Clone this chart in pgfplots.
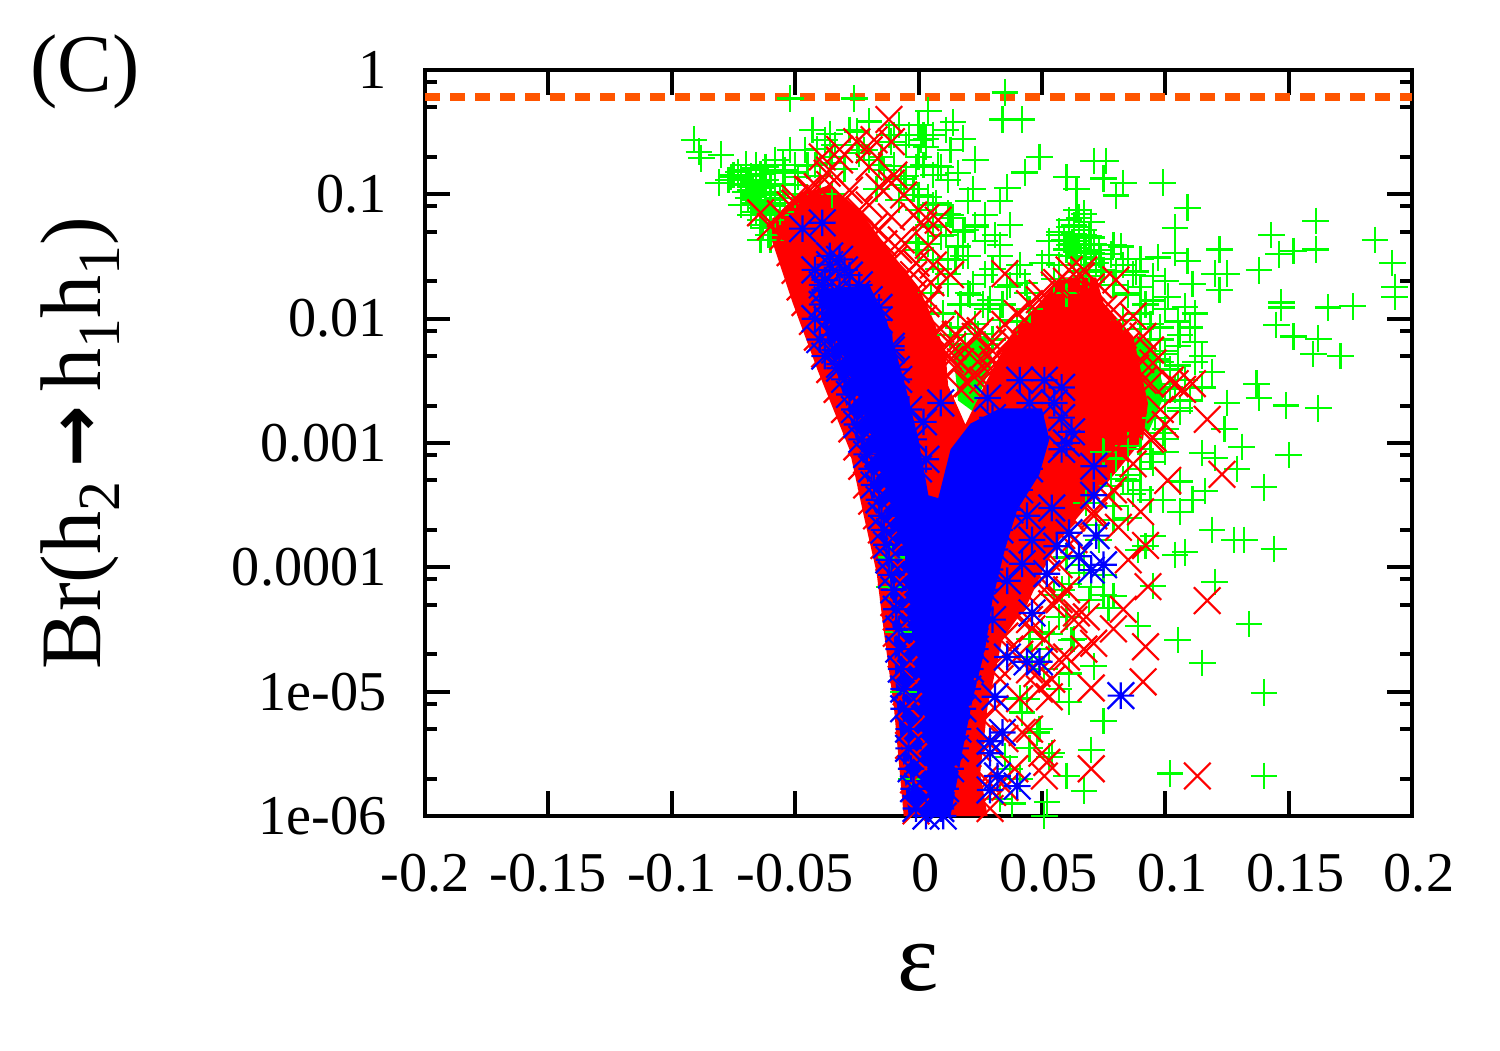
\documentclass[border=0pt]{standalone}
\usepackage{pgfplots}
\pgfplotsset{compat=1.18}
\usepackage{fontspec}
\setmainfont{Liberation Serif}
\newfontfamily\arrowfont{DejaVu Sans}
\definecolor{gpg}{RGB}{0,255,0}
\definecolor{gpr}{RGB}{255,0,0}
\definecolor{gpb}{RGB}{0,0,255}
\definecolor{gpo}{RGB}{255,85,0}
\pgfdeclareplotmark{gpx}{%
 \pgfpathmoveto{\pgfqpoint{-\pgfplotmarksize}{-\pgfplotmarksize}}\pgfpathlineto{\pgfqpoint{\pgfplotmarksize}{\pgfplotmarksize}}%
 \pgfpathmoveto{\pgfqpoint{-\pgfplotmarksize}{\pgfplotmarksize}}\pgfpathlineto{\pgfqpoint{\pgfplotmarksize}{-\pgfplotmarksize}}%
 \pgfusepathqstroke}
\pgfdeclareplotmark{gpstar}{%
 \pgfpathmoveto{\pgfqpoint{-\pgfplotmarksize}{-\pgfplotmarksize}}\pgfpathlineto{\pgfqpoint{\pgfplotmarksize}{\pgfplotmarksize}}%
 \pgfpathmoveto{\pgfqpoint{-\pgfplotmarksize}{\pgfplotmarksize}}\pgfpathlineto{\pgfqpoint{\pgfplotmarksize}{-\pgfplotmarksize}}%
 \pgfpathmoveto{\pgfqpoint{-\pgfplotmarksize}{0pt}}\pgfpathlineto{\pgfqpoint{\pgfplotmarksize}{0pt}}%
 \pgfpathmoveto{\pgfqpoint{0pt}{-\pgfplotmarksize}}\pgfpathlineto{\pgfqpoint{0pt}{\pgfplotmarksize}}%
 \pgfusepathqstroke}
\newcommand{\lsub}[1]{\raisebox{-0.22em}{\fontsize{17}{18}\selectfont #1}}
\begin{document}
\begin{tikzpicture}[x=1mm,y=1mm]
\useasboundingbox (0,0) rectangle (150,105);
\begin{axis}[
 at={(42.5mm,23.4mm)},anchor=south west,
 scale only axis,width=98.7mm,height=74.6mm,
 xmin=-0.2,xmax=0.2,ymode=log,ymin=1e-6,ymax=1,
 clip=false,
 axis line style={line width=0.4mm,black},
 tick align=inside,
 major tick length=2.5mm,minor tick length=1.2mm,
 every tick/.style={black,line width=0.4mm},
 xtick={-0.2,-0.15,-0.1,-0.05,0,0.05,0.1,0.15,0.2},
 xticklabels={-0.2,-0.15,-0.1,-0.05,\hspace{1.4mm}0,\hspace{1.4mm}0.05,\hspace{1.4mm}0.1,\hspace{1.4mm}0.15,\hspace{1.4mm}0.2},
 minor xtick={},
 ytick={1e-6,1e-5,1e-4,1e-3,1e-2,1e-1,1},
 yticklabels={1e-06,1e-05,0.0001,0.001,0.01,0.1,1},
 minor ytick={2e-6,5e-6,8e-6,2e-5,5e-5,8e-5,2e-4,5e-4,8e-4,2e-3,5e-3,8e-3,2e-2,5e-2,8e-2,0.2,0.5,0.8},
 tick label style={font=\fontsize{16}{18}\selectfont},
 xticklabel style={yshift=-2.6mm},
 yticklabel style={xshift=-2.6mm},
]
% dense green patches
\addplot[fill=gpg,draw=none] coordinates {(0.083,0.0072)(0.094,0.0068)(0.100,0.0025)(0.093,0.0012)(0.083,0.002)} -- cycle;
\addplot[fill=gpg,draw=none] coordinates {(0.014,0.0058)(0.028,0.0075)(0.030,0.0045)(0.022,0.0018)(0.016,0.0022)} -- cycle;
% green points
\addplot[only marks,color=gpg,mark=+,mark size=1.33mm,line width=0.22mm] coordinates {
(-0.091,0.275)(-0.089,0.22)(-0.088,0.195)(-0.080,0.208)(-0.081,0.124)(-0.052,0.59)(-0.026,0.59)(0.035,0.66)(-0.043,0.33)(-0.036,0.306)
(0.004,0.47)(0.014,0.38)(0.034,0.40)(0.042,0.40)(0.023,0.19)(0.049,0.2)(0.043,0.15)(0.071,0.186)(0.076,0.186)(0.060,0.137)
(0.064,0.11)(0.075,0.134)(0.083,0.123)(0.099,0.124)(0.080,0.098)(0.033,0.089)(0.036,0.113)(0.020,0.089)(0.109,0.078)(0.104,0.054)
(0.161,0.061)(0.143,0.047)(0.161,0.036)(0.152,0.035)(0.146,0.033)(0.185,0.043)(0.192,0.028)(0.193,0.018)(0.193,0.015)(0.147,0.0135)
(0.147,0.0123)(0.166,0.0123)(0.176,0.0126)(0.145,0.0089)(0.152,0.0072)(0.162,0.0069)(0.160,0.0052)(0.171,0.005)(0.122,0.036)(0.104,0.034)
(0.109,0.029)(0.097,0.031)(0.111,0.019)(0.120,0.023)(0.125,0.023)(0.122,0.017)(0.138,0.0245)(0.101,0.015)(0.112,0.011)(0.106,0.0074)
(0.115,0.005)(0.119,0.0037)(0.137,0.003)(0.138,0.0023)(0.149,0.002)(0.162,0.0019)(0.125,0.0021)(0.124,0.0013)(0.100,0.0013)(0.131,0.00093)
(0.023,0.055)(0.031,0.047)(0.053,0.042)(0.033,0.032)(0.018,0.032)(0.012,0.023)(0.043,0.0195)(0.026,0.013)(0.022,0.019)(0.018,0.28)
(0.001,0.275)(0.009,0.166)(0.016,0.148)(0.022,0.11)(0.003,0.28)(-0.011,0.265)(-0.020,0.385)(0.007,0.085)(0.014,0.065)(0.009,0.046)
(-0.001,0.041)(0.016,0.038)(-0.062,0.166)(-0.070,0.173)(-0.055,0.173)(-0.049,0.138)(-0.076,0.138)(-0.068,0.115)(-0.066,0.085)(-0.041,0.23)
(-0.036,0.178)(-0.024,0.214)(-0.014,0.158)(-0.007,0.132)(-0.001,0.166)
(0.100,0.00085)(0.115,0.00083)(0.131,0.00093)(0.150,0.0008)(0.120,0.00076)(0.129,0.00062)(0.140,0.00044)(0.106,0.00049)(0.116,0.00041)(0.111,0.00035)
(0.099,0.00035)(0.106,0.00028)(0.119,0.0002)(0.128,0.000166)(0.132,0.000166)(0.144,0.00014)(0.104,0.000126)(0.108,0.000132)(0.092,0.000148)(0.120,0.000076)
(0.134,0.000035)(0.105,0.000026)(0.115,0.000017)(0.140,0.0000098)(0.102,0.0000022)(0.140,0.0000021)(0.067,0.0000016)(0.075,0.0000058)(0.070,0.0000034)(0.060,0.0000021)
(0.052,0.0000013)(0.038,0.00000126)(0.051,0.000001)(0.071,0.000016)(0.077,0.000047)(0.089,0.000034)(0.062,0.000026)(0.061,0.000014)(0.061,0.0000083)(0.048,0.0000047)
(0.042,0.0000068)(0.054,0.0000032)(0.095,0.000071)(0.079,0.000059)(0.058,0.000066)(0.053,0.000029)(0.046,0.000019)(0.044,0.0000087)(0.068,0.00033)(0.079,0.00031)
(0.085,0.0005)(0.089,0.000138)(0.095,0.000178)
(-0.055,0.12)(-0.05,0.15)(-0.045,0.17)(-0.04,0.14)(-0.035,0.2)(-0.03,0.16)(-0.025,0.25)(-0.02,0.19)(-0.015,0.2)(-0.01,0.17)
(-0.005,0.14)(0,0.2)(0.003,0.24)(0.008,0.17)(0.012,0.13)(-0.005,0.25)(-0.012,0.3)(-0.025,0.32)(-0.017,0.11)(-0.008,0.09)
(-0.002,0.11)(0.004,0.095)(-0.06,0.105)(-0.056,0.085)(-0.05,0.10)(-0.062,0.075)(-0.066,0.1)(-0.072,0.13)(-0.07,0.105)(-0.066,0.13)
(-0.063,0.12)(-0.058,0.15)(-0.035,0.1)(0,0.075)(0.006,0.055)(0.012,0.07)(0.018,0.05)(0.004,0.04)(0.012,0.03)(0.02,0.032)
(0.027,0.042)(0.03,0.025)(0.036,0.018)(0.04,0.023)(0.044,0.016)(0.05,0.028)(0.055,0.021)(0.06,0.016)(0.045,0.012)(0.04,0.0095)
(0.034,0.013)(0.028,0.012)(0.02,0.016)(0.012,0.019)(0.008,0.025)(0.005,0.016)(0.01,0.011)(0.016,0.0085)(0.024,0.0075)(0.03,0.0068)
(0.062,0.04)(0.065,0.055)(0.068,0.035)(0.07,0.045)(0.074,0.03)(0.078,0.033)(0.082,0.038)(0.085,0.03)(0.088,0.024)(0.08,0.024)
(0.09,0.03)(0.095,0.022)(0.1,0.02)(0.09,0.018)(0.085,0.016)(0.095,0.014)(0.1,0.012)(0.105,0.0095)(0.098,0.0085)(0.09,0.011)
(0.108,0.0125)(0.11,0.0085)(0.112,0.0065)(0.105,0.006)(0.1,0.0055)(0.098,0.0045)(0.105,0.0042)(0.112,0.0045)(0.108,0.0032)(0.102,0.0028)
(0.1,0.0022)(0.106,0.0018)(0.096,0.0016)(0.099,0.0012)(0.11,0.0022)(0.115,0.0028)(0.09,0.0009)(0.095,0.0007)
(0.085,0.00095)(0.08,0.00075)(0.075,0.00085)(0.085,0.00055)(0.09,0.00042)(0.085,0.00025)(0.078,0.00045)(0.072,0.00022)
(0.06,0.00012)(0.065,0.00009)(0.07,0.00007)(0.075,0.00006)(0.055,0.00006)(0.06,0.00004)(0.05,0.00003)
(-0.012,0.00007)(-0.011,0.00012)(-0.008,0.00003)(-0.006,0.00001)(-0.003,0.000002)
(-0.075,0.143)(-0.070,0.157)(-0.066,0.172)(-0.062,0.157)(-0.058,0.189)(-0.054,0.157)(-0.050,0.172)(-0.070,0.119)(-0.066,0.09)(-0.062,0.13)
(-0.058,0.099)(-0.054,0.119)(-0.050,0.119)(-0.068,0.068)(-0.064,0.0565)(-0.060,0.082)(-0.058,0.068)(-0.060,0.043)(-0.064,0.043)(-0.077,0.13)
(-0.072,0.082)(-0.052,0.228)(-0.046,0.228)(-0.042,0.172)(-0.038,0.274)(-0.034,0.25)(-0.028,0.33)(-0.022,0.228)(-0.016,0.172)(-0.010,0.30)
(-0.008,0.361)(-0.004,0.30)(0,0.361)(0.002,0.30)(0.006,0.30)(0.011,0.33)(0.013,0.228)(0.002,0.172)(0.006,0.143)(-0.006,0.119)
(0,0.099)(0.006,0.082)(0.013,0.068)(0.011,0.047)(0.004,0.0565)(0,0.0357)(0.006,0.0297)(0.015,0.0297)(0.019,0.0515)(0.023,0.0565)
(0.027,0.068)(0.033,0.039)(0.037,0.0565)(0.041,0.027)(0.037,0.0187)(0.027,0.0226)(0.021,0.0156)(0.017,0.013)(0.023,0.009)(0.029,0.0142)
(0.033,0.0098)(0.019,0.0062)(0.023,0.0052)(0.027,0.0062)(0.013,0.0074)
(0.071,0.039)(0.057,0.047)(0.063,0.0565)(0.067,0.047)(0.053,0.0325)(0.057,0.027)(0.061,0.039)(0.067,0.03)(0.073,0.0357)(0.079,0.039)
(0.083,0.027)(0.075,0.0247)(0.079,0.0187)(0.087,0.0226)(0.085,0.0156)(0.092,0.013)(0.083,0.0098)(0.090,0.0082)(0.094,0.009)(0.098,0.0068)
(0.100,0.0052)(0.096,0.0047)(0.102,0.0039)(0.098,0.003)(0.104,0.0027)(0.106,0.0019)(0.100,0.00107)(0.094,0.00081)(0.090,0.00062)(0.083,0.00051)
(0.094,0.00035)(0.087,0.00039)(0.079,0.00024)(0.073,0.000167)(0.067,0.000105)(0.061,0.000073)(0.069,0.000055)(0.075,0.000087)(0.057,0.00004)(0.063,0.0000265)
(0.053,0.000022)(0.045,0.0000265)(0.041,0.0000088)(0.049,0.000005)(0.053,0.000003)(0.045,0.0000035)(0.037,0.0000024)(0.041,0.000002)(0.033,0.00000138)(0.035,0.000003)
(0.057,0.0000105)(0.051,0.0000152)
(-0.073,0.151)(-0.072,0.135)(-0.070,0.121)(-0.068,0.108)(-0.067,0.096)(-0.065,0.087)(-0.064,0.078)(-0.062,0.069)(-0.060,0.062)(-0.070,0.157)
(-0.068,0.14)(-0.066,0.125)(-0.064,0.112)(-0.062,0.1)(-0.060,0.09)(-0.058,0.08)(-0.056,0.072)(-0.066,0.163)(-0.064,0.146)(-0.062,0.13)
(-0.060,0.117)(-0.058,0.104)(-0.056,0.094)(-0.054,0.085)(-0.069,0.094)(-0.068,0.082)(-0.066,0.072)(-0.064,0.062)(-0.063,0.054)(-0.061,0.047)
(0.057,0.05)(0.059,0.043)(0.061,0.055)(0.063,0.048)(0.065,0.042)(0.067,0.052)(0.069,0.046)(0.071,0.04)(0.073,0.033)(0.060,0.036)
(0.062,0.032)(0.064,0.037)(0.066,0.031)(0.068,0.027)(0.070,0.034)(0.072,0.028)(0.074,0.024)(0.063,0.027)(0.066,0.024)(0.069,0.022)
(0.061,0.062)(0.065,0.065)(0.067,0.07)(0.064,0.075)(0.070,0.06)
};
% red solid region
\addplot[fill=gpr,draw=none] coordinates {
(-0.061,0.0596)(-0.048,0.099)(-0.036,0.119)(-0.024,0.075)(-0.012,0.0357)(0,0.018)(0.006,0.0098)(0.011,0.0053)(0.012,0.0029)(0.019,0.00141)
(0.027,0.003)(0.037,0.0072)(0.049,0.0134)(0.058,0.0215)(0.072,0.0215)(0.075,0.0134)(0.087,0.0072)(0.090,0.0039)(0.093,0.00209)(0.091,0.00107)
(0.080,0.00058)(0.068,0.000305)(0.057,0.000167)(0.050,0.000091)(0.044,0.00005)(0.034,0.0000265)(0.028,0.0000076)(0.025,0.0000022)(0.028,0.000001)(-0.006,0.000001)
(-0.010,0.0000076)(-0.014,0.00003)(-0.017,0.000091)(-0.022,0.00025)(-0.028,0.00089)(-0.041,0.0039)(-0.051,0.0134)(-0.060,0.046)} -- cycle;
% red points
\addplot[only marks,color=gpr,mark=gpx,mark size=1.33mm,line width=0.22mm] coordinates {
(-0.012,0.40)(-0.025,0.265)(-0.039,0.2)(-0.018,0.275)(-0.011,0.265)(-0.032,0.23)(-0.020,0.166)(-0.037,0.148)(-0.041,0.115)(-0.016,0.115)
(-0.011,0.123)(-0.064,0.071)(-0.050,0.093)(0.003,0.065)(0.008,0.062)(-0.011,0.066)(0.035,0.023)(-0.007,0.043)(-0.001,0.028)(0.005,0.0195)
(0.003,0.0132)(0.020,0.0091)(0.023,0.0072)(0.012,0.005)(0.045,0.0132)(0.056,0.0195)(0.066,0.022)(0.080,0.0205)(0.087,0.0105)(0.091,0.0072)
(0.095,0.0044)(0.107,0.0027)(0.111,0.003)(0.102,0.0032)(0.117,0.00155)(0.091,0.0032)(0.085,0.0019)(0.095,0.0011)(0.030,0.0047)(0.026,0.0032)
(0.123,0.00056)(0.101,0.0005)(0.090,0.00028)(0.092,0.00015)(0.085,0.000115)(0.093,0.00007)(0.117,0.000054)(0.092,0.000023)(0.091,0.000012)(0.070,0.0000107)
(0.083,0.000046)(0.079,0.000032)(0.071,0.0000245)(0.068,0.00004)(0.064,0.000043)(0.060,0.000019)(0.053,0.0000091)(0.054,0.0000126)(0.048,0.000014)(0.050,0.0000032)
(0.052,0.0000027)(0.051,0.0000021)(0.070,0.0000024)(0.113,0.0000021)(0.042,0.0000047)(0.077,0.00037)(0.071,0.00028)(0.081,0.00021)(0.060,0.000066)(0.054,0.000051)
(0.046,0.000032)(0.041,0.00002)(0.035,0.0000017)(0.030,0.00000155)
(-0.055,0.0457)(-0.050,0.0245)(-0.046,0.0135)(-0.041,0.0071)(-0.036,0.0039)(-0.030,0.00186)(-0.025,0.00093)(-0.021,0.00046)(-0.017,0.00026)(-0.014,0.00015)
(-0.011,0.000091)(-0.010,0.000052)(-0.009,0.0000295)(-0.006,0.000015)(-0.004,0.0000076)(-0.004,0.0000037)(-0.002,0.00000195)(-0.001,0.0000011)
(-0.052,0.034)(-0.048,0.018)(-0.043,0.0095)(-0.038,0.0052)(-0.033,0.0027)(-0.027,0.0013)(-0.023,0.00065)(-0.019,0.00034)(-0.015,0.0002)(-0.012,0.00012)
(-0.010,0.00007)(-0.009,0.00004)(-0.007,0.00002)(-0.005,0.00001)(-0.003,0.000005)(-0.002,0.000003)
(-0.06,0.055)(-0.056,0.07)(-0.05,0.085)(-0.045,0.11)(-0.036,0.12)(-0.03,0.09)(-0.024,0.075)(-0.018,0.055)(-0.014,0.04)(-0.01,0.03)
(-0.006,0.022)(-0.002,0.016)(0.002,0.01)(0.006,0.0075)(0.01,0.0056)(0.015,0.004)(0.02,0.003)(0.024,0.0045)(0.03,0.0065)(0.035,0.009)
(0.04,0.011)(0.05,0.016)(0.06,0.02)(0.07,0.018)(0.075,0.012)(0.08,0.009)(0.084,0.006)(0.088,0.004)(0.087,0.0022)(0.085,0.0014)
(0.08,0.0009)(0.072,0.00065)(0.068,0.00045)(0.062,0.00025)(0.058,0.00018)(0.052,0.00012)(0.05,0.00008)(0.044,0.00006)(0.04,0.00004)(0.035,0.000028)
(0.032,0.000016)(0.028,0.00001)(0.026,0.000006)(0.024,0.0000035)(0.027,0.0000018)(0.02,0.000002)
(-0.052,0.082)(-0.044,0.108)(-0.036,0.157)(-0.028,0.108)(-0.020,0.082)(-0.016,0.0515)(-0.008,0.0357)(-0.002,0.0226)(0.004,0.0142)(0.009,0.0082)
(0.013,0.0047)(0.017,0.0027)
(0.031,0.0043)(0.037,0.0068)(0.043,0.0098)(0.049,0.0142)(0.055,0.0187)(0.061,0.0247)(0.067,0.0247)(0.073,0.0187)(0.079,0.0118)(0.083,0.0074)
(0.090,0.0047)(0.094,0.003)(0.098,0.00186)(0.094,0.00107)(0.087,0.00068)(0.079,0.00042)(0.071,0.00026)(0.063,0.000167)(0.057,0.000105)(0.051,0.000066)
(0.045,0.000038)(0.037,0.000022)(0.033,0.0000127)(0.031,0.0000073)(0.029,0.0000038)(0.027,0.000002)(0.029,0.00000115)
(0.057,0.000055)(0.063,0.000038)(0.051,0.0000265)(0.057,0.000018)(0.045,0.000015)(0.067,0.000022)(0.041,0.0000088)(0.049,0.0000105)(0.035,0.0000042)(0.039,0.0000024)(0.045,0.000005)
(-0.020,0.228)(-0.032,0.189)(-0.010,0.143)(-0.006,0.099)(-0.002,0.068)(0.002,0.0565)(0.004,0.039)(0.006,0.027)(0.013,0.0226)(0.094,0.0056)(0.100,0.00141)(0.104,0.003)
(0.015,0.0075)(0.02,0.006)(0.025,0.008)(0.03,0.0055)(0.017,0.0045)(0.022,0.0035)(0.028,0.0042)(0.014,0.006)
};
% blue solid region
\addplot[fill=gpb,draw=none] coordinates {
(-0.041,0.0171)(-0.020,0.0187)(-0.013,0.0098)(-0.006,0.00325)(0,0.00107)(0.004,0.00038)(0.008,0.00036)(0.013,0.00089)(0.021,0.00143)(0.033,0.0019)
(0.050,0.0019)(0.053,0.00107)(0.049,0.00056)(0.040,0.00029)(0.035,0.000139)(0.030,0.000055)(0.027,0.000022)(0.022,0.0000088)(0.018,0.0000035)(0.013,0.000001)
(-0.004,0.000001)(-0.006,0.0000024)(-0.009,0.0000088)(-0.010,0.0000265)(-0.013,0.000096)(-0.017,0.00024)(-0.023,0.00074)(-0.030,0.00224)(-0.037,0.0068)} -- cycle;
% blue points
\addplot[only marks,color=gpb,mark=gpstar,mark size=1.33mm,line width=0.22mm] coordinates {
(-0.047,0.053)(-0.039,0.059)(-0.036,0.032)(-0.032,0.03)(-0.039,0.0187)(-0.028,0.0224)(-0.025,0.0158)(-0.016,0.0123)(-0.042,0.01)(-0.032,0.0105)
(-0.037,0.0141)(0.009,0.0021)(0.002,0.00148)(0.028,0.0023)(0.041,0.0032)(0.051,0.0032)(0.058,0.0028)(0.055,0.0021)(0.058,0.0016)(0.062,0.00123)
(0.030,0.0016)(0.045,0.0021)(0.060,0.001)(-0.011,0.006)(-0.009,0.0039)(-0.040,0.0068)(-0.038,0.005)(-0.032,0.004)
(0.003,0.00074)(0.058,0.00089)(0.071,0.00065)(0.071,0.00038)(0.054,0.0003)(0.044,0.00026)(0.061,0.00019)(0.072,0.00018)(0.046,0.000166)(0.056,0.000148)
(0.065,0.000123)(0.042,0.000107)(0.052,0.000089)(0.070,0.000095)(0.075,0.000105)(0.036,0.000078)(0.046,0.000043)(0.030,0.000038)(0.036,0.000019)(0.044,0.0000174)
(0.049,0.0000174)(0.031,0.0000091)(0.082,0.0000093)(0.034,0.0000047)(0.029,0.000004)(0.029,0.0000032)(0.032,0.0000021)(0.040,0.00000174)(0.029,0.00000162)(0.003,0.000001)(0.010,0.000001)
(-0.038,0.0171)(-0.039,0.013)(-0.037,0.0098)(-0.035,0.0074)(-0.034,0.0056)(-0.032,0.0043)(-0.030,0.00325)(-0.028,0.00246)(-0.026,0.00186)(-0.025,0.00141)
(-0.023,0.00107)(-0.021,0.00081)(-0.019,0.00062)(-0.018,0.00046)(-0.016,0.00035)(-0.015,0.00026)(-0.014,0.0002)(-0.013,0.000152)(-0.012,0.000115)(-0.011,0.000087)
(-0.010,0.000066)(-0.009,0.000046)(-0.008,0.000032)(-0.008,0.000022)(-0.007,0.0000152)(-0.006,0.0000105)(-0.006,0.0000073)(-0.004,0.000005)(-0.004,0.0000035)(-0.003,0.0000024)
(-0.002,0.00000166)(-0.001,0.00000115)
(0.045,0.00062)(0.041,0.00042)(0.037,0.00029)(0.033,0.0002)(0.031,0.000139)(0.029,0.000096)(0.027,0.000066)(0.025,0.000046)(0.023,0.000032)(0.023,0.000022)
(0.021,0.0000152)(0.020,0.0000105)(0.018,0.0000073)(0.016,0.000005)(0.015,0.0000035)(0.013,0.0000024)(0.011,0.00000166)(0.009,0.00000115)
(-0.042,0.0247)(-0.036,0.0272)(-0.030,0.0247)(-0.024,0.0187)(-0.032,0.0171)(-0.038,0.0205)(-0.028,0.0142)(-0.020,0.0142)(-0.016,0.0098)(-0.011,0.0056)
(-0.008,0.00325)(-0.004,0.00186)(-0.002,0.00107)(0,0.00062)
};
% reference line
\addplot[color=gpo,line width=0.8mm,dash pattern=on 1.45mm off 1.05mm] coordinates {(-0.2,0.607)(0.2,0.607)};
\end{axis}
\node[anchor=center,font=\fontsize{23.3}{26}\selectfont] at (8.5,97.8) {(C)};
\node[anchor=center,rotate=90,font=\fontsize{24.5}{26}\selectfont] at (8.0,60.7) {Br(h\lsub{2}\,{\arrowfont\bfseries\fontsize{21}{22}\selectfont →}\,h\lsub{1}h\lsub{1})};
\node[anchor=center,font=\fontsize{28}{30}\selectfont] at (91.8,8.2) {ε};
\end{tikzpicture}
\end{document}
